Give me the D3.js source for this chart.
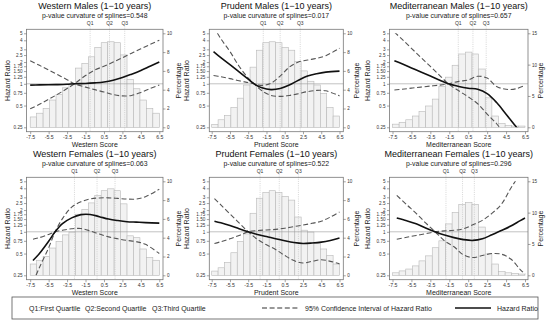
<!DOCTYPE html>
<html><head><meta charset="utf-8">
<script src="https://cdn.jsdelivr.net/npm/d3@7"></script>
<style>body{margin:0;background:#fff}svg{display:block;font-family:"Liberation Sans",Arial,sans-serif}</style>
</head><body><svg id="c" width="550" height="322"></svg>
<script>
// ---------- shared labels / ticks ----------
const titles = ["Western Males (1\u221210 years)","Prudent Males (1\u221210 years)","Mediterranean Males (1\u221210 years)",
                "Western Females (1\u221210 years)","Prudent Females (1\u221210 years)","Mediterranean Females (1\u221210 years)"];
const pValues = ["0.548","0.017","0.657","0.063","0.522","0.296"];
const xLabels = ["Western Score","Prudent Score","Mediterranean Score"];
const xTicks = [-7.5,-5.5,-3.5,-1.5,0.5,2.5,4.5,6.5];
const hrTicks = [0.25,0.5,0.75,1,1.25,1.5,1.75,2,2.5,3,4,5];
const hrTickLabels = ["0.25","0.5","0.75","1","1.25","1.50","1.75","2","2.5","3","4","5"];
const pctTicksWP = [0,2,4,6,8,10];
const pctTicksMed = [0,5,10,15];
const qNames = ["Q1","Q2","Q3"];
const binStart = -7.5, binWidth = 0.7;

// ---------- Western Males ----------
const wmX     = [-7.5,-6.5,-5.5,-4.5,-3.5,-2.7,-1.5,-0.5,0.5,1.5,2.5,3.5,4.5,5.5,6.5];
const wmHR    = [0.96,0.965,0.97,0.975,0.985,1.0,1.01,1.03,1.06,1.12,1.22,1.36,1.53,1.75,2.0];
const wmUpper = [2.09,1.8,1.55,1.33,1.14,1.0,1.3,1.55,1.75,2.0,2.3,2.65,3.05,3.5,4.0];
const wmLower = [0.45,0.52,0.61,0.72,0.86,1.0,0.9,0.83,0.77,0.71,0.68,0.69,0.76,0.86,0.96];
const wmRef = -2.7;
const wmQ = [-1.0,1.1,2.75];
const wmHist = [1.1,1.5,2.0,2.9,3.5,4.2,4.6,6.3,6.8,7.5,8.5,9.0,9.1,9.0,7.7,5.1,4.1,2.9,2.0,1.5];

// ---------- Prudent Males ----------
const pmX     = [-7.3,-6.5,-5.5,-4.5,-3.5,-2.85,-2.0,-1.0,0.0,1.0,2.0,3.0,4.0,5.0,6.5];
const pmHR    = [2.78,2.31,1.84,1.46,1.16,1.0,0.88,0.83,0.86,0.96,1.12,1.28,1.38,1.45,1.5];
const pmUpper = [6.2,4.2,2.8,1.75,1.2,1.0,0.95,1.02,1.28,1.7,2.0,2.13,2.25,2.45,3.1];
const pmLower = [1.3,1.25,1.18,1.1,1.04,1.0,0.8,0.69,0.67,0.69,0.73,0.78,0.81,0.8,0.68];
const pmRef = -2.85;
const pmQ = [-1.85,0.0,2.2];
const pmHist = [0.3,0.8,1.25,2.1,3.1,4.5,6.4,8.2,9.0,9.1,9.0,8.5,8.2,7.0,6.0,4.9,4.5,3.6,2.1,1.2];

// ---------- Mediterranean Males ----------
const mmX     = [-7.3,-6.5,-5.5,-4.5,-3.5,-2.5,-1.6,-0.5,0.5,1.5,2.5,3.5,4.5,5.5,6.5];
const mmHR    = [2.09,1.89,1.66,1.46,1.28,1.12,1.0,0.92,0.87,0.84,0.73,0.55,0.38,0.26,0.18];
const mmUpper = [5.2,4.15,3.1,2.32,1.74,1.3,1.0,1.08,1.13,1.27,1.2,0.92,0.84,0.85,0.95];
const mmLower = [0.82,0.84,0.87,0.9,0.93,0.96,1.0,0.8,0.66,0.53,0.38,0.28,0.19,0.13,0.1];
const mmRef = -1.6;
const mmQ = [-0.55,1.0,2.4];
const mmHist = [0.5,0.8,1.2,1.8,2.5,3.4,4.5,6.5,8.0,9.9,11.7,12.0,11.7,9.3,4.7,1.8,0.6,0.3,0.2,0.2];

// ---------- Western Females ----------
const wfX     = [-7.2,-6.5,-5.5,-4.8,-4.0,-3.0,-2.0,-1.0,0.0,1.0,2.0,3.0,4.0,5.0,6.5];
const wfHR    = [0.40,0.5,0.74,1.0,1.3,1.56,1.73,1.74,1.62,1.5,1.43,1.38,1.36,1.34,1.32];
const wfUpper = [0.79,0.83,0.92,1.0,1.52,2.2,2.6,2.85,2.94,2.95,2.9,2.84,2.84,3.05,3.9];
const wfLower = [0.2,0.32,0.6,1.0,1.05,1.1,1.11,1.03,0.93,0.85,0.8,0.76,0.73,0.67,0.5];
const wfRef = -4.8;
const wfQ = [-2.7,-0.25,1.7];
const wfHist = [1.2,1.6,2.0,2.9,3.6,4.3,4.6,6.5,7.0,7.7,8.5,9.0,9.2,9.0,7.6,4.2,4.0,2.8,1.9,1.6];

// ---------- Prudent Females ----------
const pfX     = [-7.2,-6.5,-5.5,-4.5,-3.5,-2.5,-1.5,-0.5,0.5,1.5,2.5,3.5,4.5,5.5,6.5];
const pfHR    = [1.40,1.33,1.22,1.1,1.0,0.92,0.86,0.8,0.75,0.71,0.69,0.7,0.72,0.76,0.82];
const pfUpper = [2.88,2.36,1.77,1.33,1.0,1.04,1.06,1.08,1.12,1.18,1.24,1.31,1.4,1.6,1.88];
const pfLower = [0.69,0.73,0.8,0.89,1.0,0.79,0.66,0.57,0.47,0.4,0.37,0.39,0.41,0.39,0.36];
const pfRef = -3.5;
const pfQ = [-2.2,-0.1,2.0];
const pfHist = [0.45,0.8,1.35,2.4,3.6,4.4,6.6,8.2,8.8,9.0,8.8,8.4,8.0,6.2,4.8,4.6,3.4,2.8,2.1,1.2];

// ---------- Mediterranean Females ----------
const mfX     = [-7.05,-6,-5,-4,-3,-2,-1,0,1,2,3,4,5,6,6.5];
const mfHR    = [1.55,1.42,1.29,1.13,1.0,0.9,0.83,0.78,0.76,0.8,0.91,1.04,1.2,1.43,1.55];
const mfUpper = [3.2,2.37,1.8,1.33,1.0,1.03,1.05,1.1,1.25,1.44,1.8,2.4,4.0,6.4,8.0];
const mfLower = [0.79,0.84,0.89,0.94,1.0,0.75,0.62,0.48,0.44,0.47,0.5,0.49,0.42,0.3,0.26];
const mfRef = -3.0;
const mfQ = [-1.85,-0.1,1.15];
const mfHist = [0.4,0.7,1.0,1.5,2.3,3.1,4.4,5.5,8.2,10.0,11.3,11.6,11.3,7.7,3.4,1.8,0.6,0.4,0.3,0.2];

const panels = [
  {x:wmX,hr:wmHR,up:wmUpper,lo:wmLower,ref:wmRef,q:wmQ,hist:wmHist,pMax:10,pTicks:pctTicksWP},
  {x:pmX,hr:pmHR,up:pmUpper,lo:pmLower,ref:pmRef,q:pmQ,hist:pmHist,pMax:10,pTicks:pctTicksWP},
  {x:mmX,hr:mmHR,up:mmUpper,lo:mmLower,ref:mmRef,q:mmQ,hist:mmHist,pMax:15,pTicks:pctTicksMed},
  {x:wfX,hr:wfHR,up:wfUpper,lo:wfLower,ref:wfRef,q:wfQ,hist:wfHist,pMax:10,pTicks:pctTicksWP},
  {x:pfX,hr:pfHR,up:pfUpper,lo:pfLower,ref:pfRef,q:pfQ,hist:pfHist,pMax:10,pTicks:pctTicksWP},
  {x:mfX,hr:mfHR,up:mfUpper,lo:mfLower,ref:mfRef,q:mfQ,hist:mfHist,pMax:15,pTicks:pctTicksMed}
];

// ---------- layout ----------
const COLS = [
  {L:26.5,R:163,a:30.2,b:159.3,hl:7.5,pl:178.5},
  {L:209.3,R:343.3,a:211.7,b:339.5,hl:186.5,pl:357},
  {L:389.5,R:528,a:392.5,b:525,hl:367.5,pl:541}
];
const ROWH = 148;

const svg = d3.select("#c");
const defs = svg.append("defs");

panels.forEach((p,k)=>{
  const r = Math.floor(k/3), c = k%3, col = COLS[c], off = r*ROWH;
  const T = 29.3+off, B = 131.7+off;
  const xs = d3.scaleLinear().domain([-7.5,6.5]).range([col.a,col.b]);
  const ys = d3.scaleLog().domain([0.25,5]).range([127.3+off,33.3+off]);
  const ps = d3.scaleLinear().domain([0,p.pMax]).range([127.3+off,33.3+off]);
  const g = svg.append("g");
  const cx = (col.L+col.R)/2;

  // titles
  g.append("text").attr("x",cx).attr("y",9+off).attr("text-anchor","middle")
    .attr("font-size",9).attr("fill","#111").text(titles[k]);
  g.append("text").attr("x",cx).attr("y",18+off).attr("text-anchor","middle")
    .attr("font-size",6.9).attr("fill","#222").text("p-value curvature of splines="+pValues[k]);

  // histogram
  g.selectAll("rect.bar").data(p.hist).join("rect").attr("class","bar")
    .attr("x",(d,i)=>xs(binStart+i*binWidth))
    .attr("width",(d,i)=>xs(binStart+(i+1)*binWidth)-xs(binStart+i*binWidth))
    .attr("y",d=>ps(d)).attr("height",d=>ps(0)-ps(d))
    .attr("fill","#f2f2f2").attr("stroke","#b8b8b8").attr("stroke-width",0.6);

  // quartile lines + labels
  g.selectAll("line.q").data(p.q).join("line").attr("class","q")
    .attr("x1",d=>xs(d)).attr("x2",d=>xs(d)).attr("y1",T-3).attr("y2",B)
    .attr("stroke","#bbb").attr("stroke-width",0.6).attr("stroke-dasharray","1,1.2");
  g.selectAll("text.q").data(p.q).join("text").attr("class","q")
    .attr("x",d=>xs(d)).attr("y",25+off).attr("text-anchor","middle")
    .attr("font-size",5).attr("fill","#333").text((d,i)=>qNames[i]);

  // reference line HR=1
  g.append("line").attr("x1",col.L).attr("x2",col.R).attr("y1",ys(1)).attr("y2",ys(1))
    .attr("stroke","#999").attr("stroke-width",0.6);

  // curves
  const cid = "clip"+k;
  defs.append("clipPath").attr("id",cid).append("rect")
    .attr("x",col.L).attr("y",ys(5)).attr("width",col.R-col.L).attr("height",ys(0.25)-ys(5));
  const cg = g.append("g").attr("clip-path","url(#"+cid+")");
  const line = d3.line().x(d=>xs(d[0])).y(d=>ys(d[1])).curve(d3.curveCatmullRom.alpha(0.5));
  const ciA = p.x.map((x,i)=>[x, x<=p.ref ? p.up[i] : p.lo[i]]);
  const ciB = p.x.map((x,i)=>[x, x<=p.ref ? p.lo[i] : p.up[i]]);
  [ciA,ciB].forEach(pts=>{
    cg.append("path").attr("d",line(pts)).attr("fill","none")
      .attr("stroke","#555").attr("stroke-width",1.1).attr("stroke-dasharray","5,2.6");
  });
  cg.append("path").attr("d",line(p.x.map((x,i)=>[x,p.hr[i]]))).attr("fill","none")
    .attr("stroke","#111").attr("stroke-width",1.6);

  // frame
  g.append("rect").attr("x",col.L).attr("y",T).attr("width",col.R-col.L).attr("height",B-T)
    .attr("fill","none").attr("stroke","#777").attr("stroke-width",0.8);

  // axes
  const styleAxis = (ax,fs)=>{
    ax.select(".domain").remove();
    ax.selectAll("line").attr("stroke","#666").attr("stroke-width",0.6);
    ax.selectAll("text").attr("font-size",fs).attr("fill","#333").attr("font-family","Liberation Sans, Arial, sans-serif");
  };
  const axL = g.append("g").attr("transform",`translate(${col.L},0)`)
    .call(d3.axisLeft(ys).tickValues(hrTicks).tickFormat((d,i)=>hrTickLabels[i]).tickSize(2.5).tickPadding(1.5));
  styleAxis(axL,4.6);
  const axR = g.append("g").attr("transform",`translate(${col.R},0)`)
    .call(d3.axisRight(ps).tickValues(p.pTicks).tickSize(2.5).tickPadding(1.5));
  styleAxis(axR,4.6);
  const axB = g.append("g").attr("transform",`translate(0,${B})`)
    .call(d3.axisBottom(xs).tickValues(xTicks).tickFormat(d=>d.toFixed(1)).tickSize(2.5).tickPadding(1.5));
  styleAxis(axB,5.2);

  // axis titles
  g.append("text").attr("transform",`translate(${col.hl},${(T+B)/2}) rotate(-90)`)
    .attr("text-anchor","middle").attr("dy","0.35em").attr("font-size",7).attr("fill","#222").text("Hazard Ratio");
  g.append("text").attr("transform",`translate(${col.pl},${(T+B)/2}) rotate(-90)`)
    .attr("text-anchor","middle").attr("dy","0.35em").attr("font-size",7).attr("fill","#222").text("Percentage");
  g.append("text").attr("x",cx).attr("y",147+off).attr("text-anchor","middle")
    .attr("font-size",7).attr("fill","#222").text(xLabels[c]);
});

// ---------- legend ----------
const lg = svg.append("g");
lg.append("rect").attr("x",12).attr("y",297).attr("width",526).attr("height",22)
  .attr("fill","#fff").attr("stroke","#555").attr("stroke-width",0.8);
const legendTexts = [
  {t:"Q1:First Quartile",x:29},{t:"Q2:Second Quartile",x:85},{t:"Q3:Third Quartile",x:152},
  {t:"95% Confidence Interval of Hazard Ratio",x:305},{t:"Hazard Ratio",x:497}
];
lg.selectAll("text").data(legendTexts).join("text").attr("x",d=>d.x).attr("y",310.5)
  .attr("font-size",7).attr("fill","#222").text(d=>d.t);
lg.append("line").attr("x1",262).attr("x2",298).attr("y1",308).attr("y2",308)
  .attr("stroke","#333").attr("stroke-width",1.1).attr("stroke-dasharray","5,2.6");
lg.append("line").attr("x1",455).attr("x2",491).attr("y1",308).attr("y2",308)
  .attr("stroke","#111").attr("stroke-width",1.6);
</script></body></html>
